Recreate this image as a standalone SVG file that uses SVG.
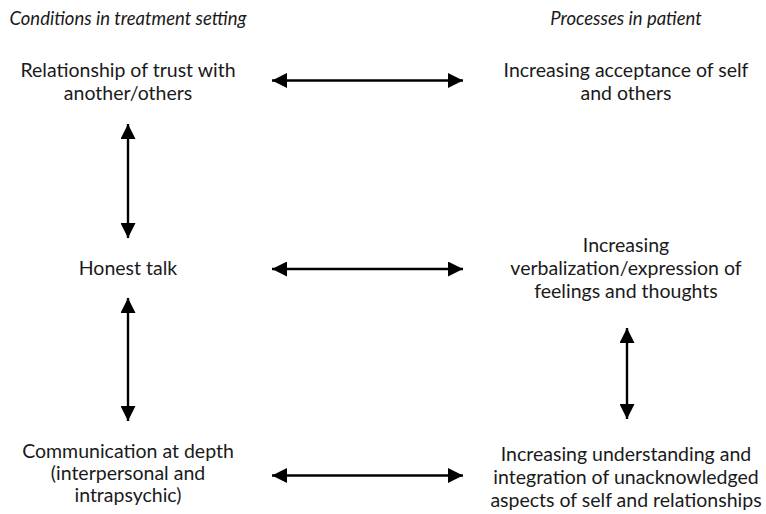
<svg xmlns="http://www.w3.org/2000/svg" width="766" height="514" viewBox="0 0 766 514">
  <style>
    text { font-family: Lato, "Open Sans", "Liberation Sans", sans-serif; fill: #1a1a1a; text-anchor: middle; }
    .hd { font-size: 18.5px; font-style: italic; }
    .nd { font-size: 19.5px; }
    .cn line { stroke: #000; stroke-width: 2.4; }
  </style>
  <defs>
    <marker id="ah" viewBox="0 0 15 15" refX="15" refY="7.5" markerWidth="15" markerHeight="15" markerUnits="userSpaceOnUse" orient="auto-start-reverse">
      <path d="M0,0 L15,7.5 L0,15 Z" fill="#000"/>
    </marker>
  </defs>

  <rect width="766" height="514" fill="#fff"/>

  <g id="headers">
    <text class="hd" x="128" y="25">Conditions in treatment setting</text>
    <text class="hd" x="626" y="25">Processes in patient</text>
  </g>

  <g id="trust">
    <text class="nd" x="128" y="77">Relationship of trust with</text>
    <text class="nd" x="128" y="100">another/others</text>
  </g>
  <g id="honest">
    <text class="nd" x="128" y="275">Honest talk</text>
  </g>
  <g id="communication">
    <text class="nd" x="128" y="458">Communication at depth</text>
    <text class="nd" x="128" y="480">(interpersonal and</text>
    <text class="nd" x="128" y="502">intrapsychic)</text>
  </g>
  <g id="acceptance">
    <text class="nd" x="626" y="77">Increasing acceptance of self</text>
    <text class="nd" x="626" y="100">and others</text>
  </g>
  <g id="verbalization">
    <text class="nd" x="626" y="252">Increasing</text>
    <text class="nd" x="626" y="275">verbalization/expression of</text>
    <text class="nd" x="626" y="298">feelings and thoughts</text>
  </g>
  <g id="understanding">
    <text class="nd" x="626" y="461">Increasing understanding and</text>
    <text class="nd" x="626" y="484">integration of unacknowledged</text>
    <text class="nd" x="626" y="507">aspects of self and relationships</text>
  </g>

  <g id="connectors" class="cn">
    <line x1="272" y1="80.5" x2="463" y2="80.5" marker-start="url(#ah)" marker-end="url(#ah)"/>
    <line x1="272" y1="269" x2="463" y2="269" marker-start="url(#ah)" marker-end="url(#ah)"/>
    <line x1="272" y1="475.5" x2="463" y2="475.5" marker-start="url(#ah)" marker-end="url(#ah)"/>
    <line x1="128" y1="124" x2="128" y2="238" marker-start="url(#ah)" marker-end="url(#ah)"/>
    <line x1="128" y1="298" x2="128" y2="421" marker-start="url(#ah)" marker-end="url(#ah)"/>
    <line x1="627" y1="328" x2="627" y2="419" marker-start="url(#ah)" marker-end="url(#ah)"/>
  </g>
</svg>
